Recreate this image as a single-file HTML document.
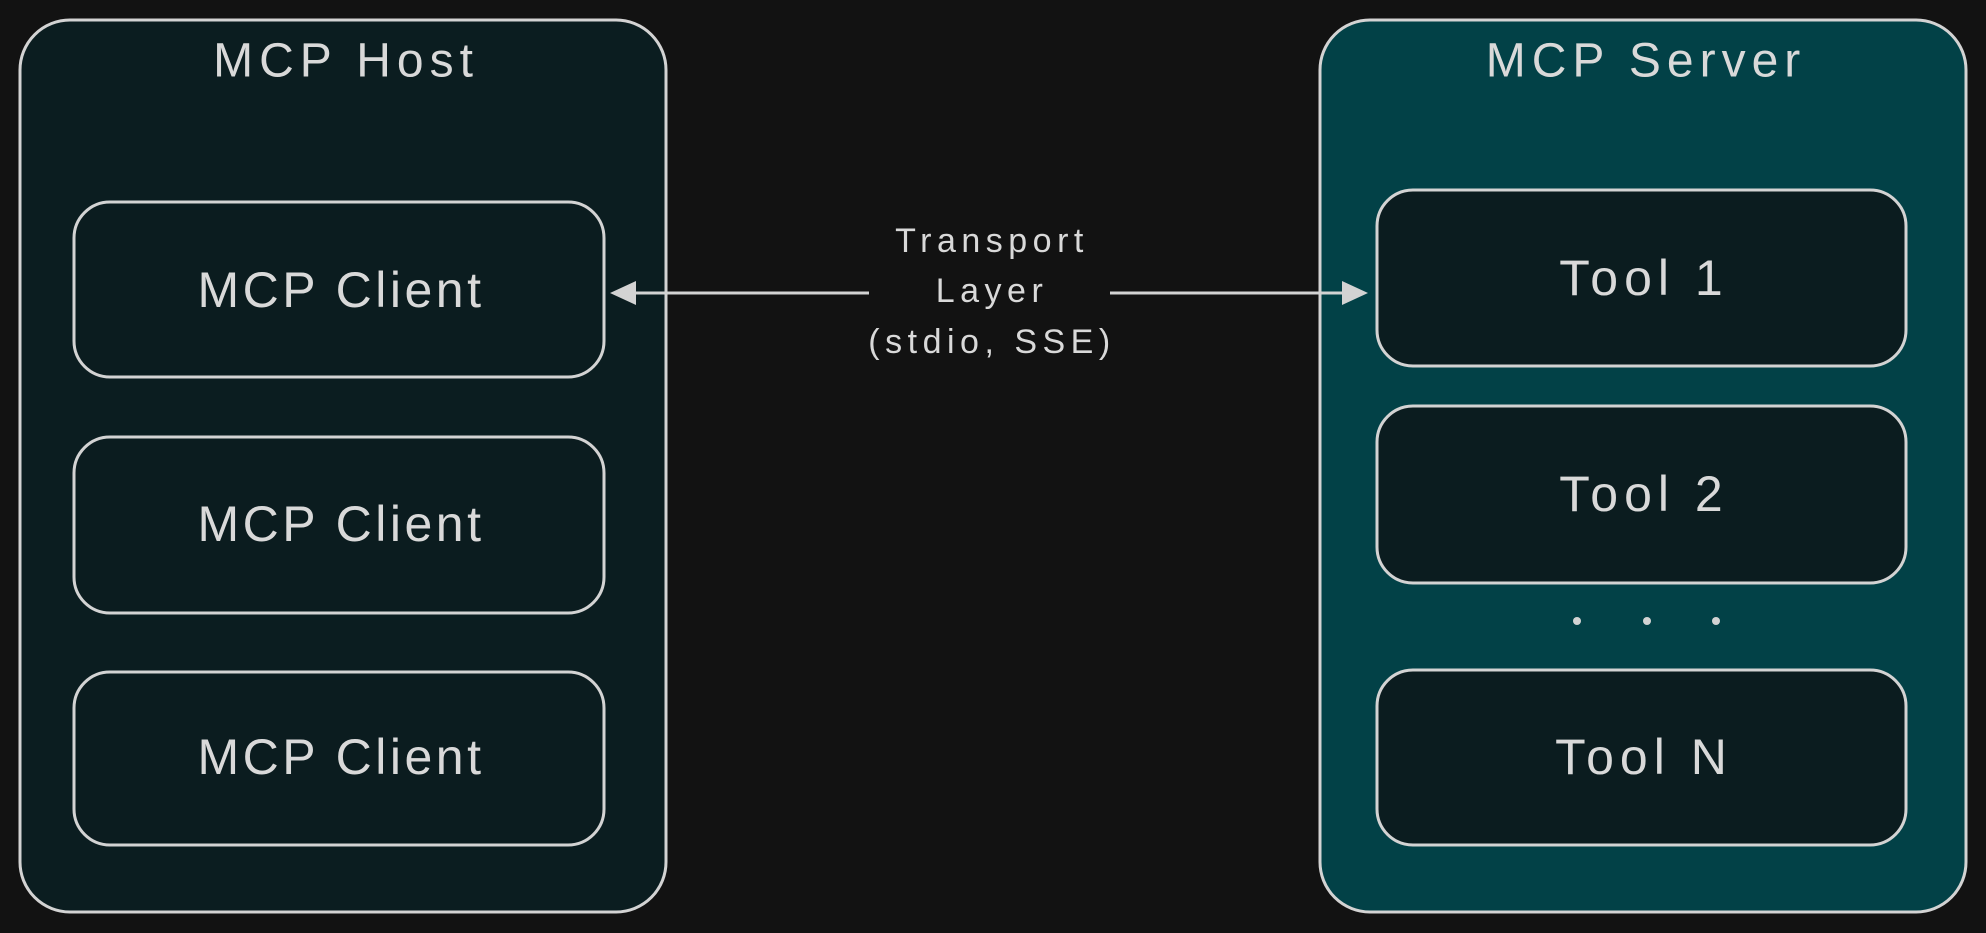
<!DOCTYPE html>
<html><head><meta charset="utf-8"><style>
html,body{margin:0;padding:0;background:#121212;}
svg{display:block}
text{font-family:"Liberation Sans",sans-serif;fill:#d9d9d9;text-anchor:middle;dominant-baseline:central}
</style></head><body>
<svg width="1986" height="933" viewBox="0 0 1986 933">
<rect width="1986" height="933" fill="#121212"/>
<rect x="20" y="20" width="646" height="892" rx="50" fill="#0b1d20" stroke="#d3d3d3" stroke-width="3"/>
<rect x="1320" y="20" width="646" height="892" rx="50" fill="#024147" stroke="#d3d3d3" stroke-width="3"/>
<g font-size="48" letter-spacing="6">
<text x="346" y="61">MCP Host</text>
<text x="1646" y="61">MCP Server</text>
</g>
<g fill="#0b1c1f" stroke="#d3d3d3" stroke-width="3">
<rect x="74" y="202" width="530" height="175" rx="36"/>
<rect x="74" y="437" width="530" height="176" rx="36"/>
<rect x="74" y="672" width="530" height="173" rx="36"/>
<rect x="1377" y="190" width="529" height="176" rx="36"/>
<rect x="1377" y="406" width="529" height="177" rx="36"/>
<rect x="1377" y="670" width="529" height="175" rx="36"/>
</g>
<g font-size="50" letter-spacing="3.5">
<text x="341" y="290">MCP Client</text>
<text x="341" y="524">MCP Client</text>
<text x="341" y="757">MCP Client</text>
</g>
<g font-size="50" letter-spacing="6">
<text x="1644" y="278">Tool 1</text>
<text x="1644" y="494">Tool 2</text>
<text x="1644" y="757">Tool N</text>
</g>
<g fill="#d3d3d3"><circle cx="1577" cy="621" r="4"/><circle cx="1647" cy="621" r="4"/><circle cx="1716" cy="621" r="4"/></g>
<g stroke="#d3d3d3" stroke-width="3">
<line x1="869" y1="293" x2="625" y2="293"/>
<line x1="1110" y1="293" x2="1352" y2="293"/>
</g>
<polygon points="610,293 636,281 636,305" fill="#d3d3d3"/>
<polygon points="1368,293 1342,281 1342,305" fill="#d3d3d3"/>
<g font-size="34" letter-spacing="5.5">
<text x="992" y="241">Transport</text>
<text x="992" y="291">Layer</text>
<text x="992" y="342">(stdio, SSE)</text>
</g>
</svg>
</body></html>
